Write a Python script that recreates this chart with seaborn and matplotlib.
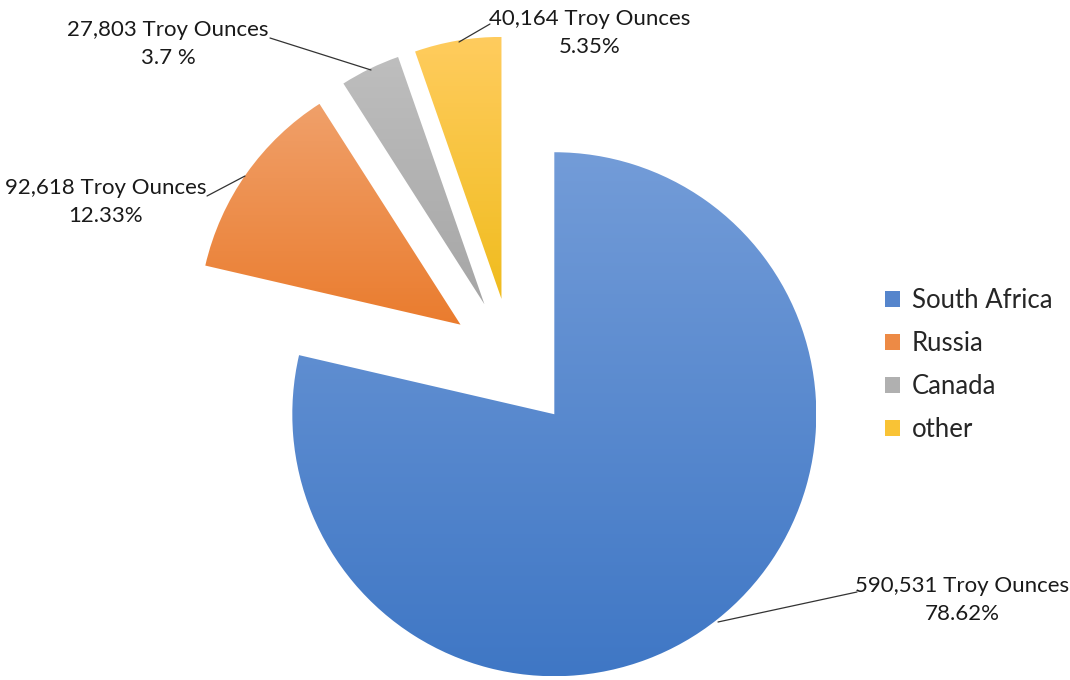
import numpy as np
import matplotlib
matplotlib.use("Agg")
import matplotlib.pyplot as plt
import matplotlib.colors as mcolors
from matplotlib.patches import Patch
import seaborn as sns

# ---- data ----
countries = ["South Africa", "Russia", "Canada", "other"]
ounces = [590531, 92618, 27803, 40164]
ounce_labels = ["590,531 Troy Ounces", "92,618 Troy Ounces", "27,803 Troy Ounces", "40,164 Troy Ounces"]
share_labels = ["78.62%", "12.33%", "3.7 %", "5.35%"]

sns.set_style("white")
plt.rcParams['font.family'] = ['Lato', 'DejaVu Sans']

base = sns.color_palette(["#5585CC", "#ED8A45", "#B0B0B0", "#F9C335"])
tops = ["#739CD8", "#F0A06A", "#BEBEBE", "#FFCC5E"]
bottoms = ["#3F77C5", "#EA7C2E", "#A6A6A6", "#F0BC1E"]

W, H = 1070, 680
fig = plt.figure(figsize=(W / 100, H / 100), dpi=100)
ax = fig.add_axes([0, 0, 1, 1])

wedges, _ = ax.pie(ounces, startangle=90, counterclock=False, radius=262,
                   center=(512, H - 361), explode=[68, 63, 63, 63],
                   colors=base, wedgeprops=dict(linewidth=0))

grad = np.linspace(0, 1, 256).reshape(-1, 1)
for w, top, bot in zip(wedges, tops, bottoms):
    bb = w.get_path().get_extents(w.get_patch_transform())
    cmap = mcolors.LinearSegmentedColormap.from_list("g", [bot, top])
    im = ax.imshow(grad, cmap=cmap, extent=(bb.x0, bb.x1, bb.y0, bb.y1),
                   origin='lower', aspect='auto', interpolation='bicubic',
                   zorder=w.get_zorder())
    im.set_clip_path(w)
    w.set_facecolor('none')

def Y(py):
    return H - py

# label positions (pixel coords of reference), leader lines
label_pos = [(962, 600), (106, 202), (168, 44), (590, 33)]
leaders = [((718, 622), (857, 592)),
           ((207, 196), (245, 176)),
           ((270, 38), (371, 70)),
           ((490, 24), (459, 42))]
for (lx, ly), (p0, p1), t1, t2 in zip(label_pos, leaders, ounce_labels, share_labels):
    ax.text(lx, Y(ly), f"{t1}\n{t2}", ha='center', va='center', multialignment='center',
            fontsize=16, color='#1a1a1a', linespacing=1.45)
    ax.plot([p0[0], p1[0]], [Y(p0[1]), Y(p1[1])], color='#333333', lw=0.9)

handles = [Patch(facecolor=c, edgecolor='none') for c in base]
ax.legend(handles, countries, loc='upper left', bbox_to_anchor=(885 / W, 1 - 288 / H),
          frameon=False, fontsize=18.5, handlelength=0.6, handleheight=0.6,
          handletextpad=0.45, labelspacing=0.7, borderaxespad=0, borderpad=0)

ax.set_xlim(0, W)
ax.set_ylim(0, H)
ax.set_aspect('equal')
ax.axis('off')
fig.savefig("out.png", dpi=100, facecolor='white')
